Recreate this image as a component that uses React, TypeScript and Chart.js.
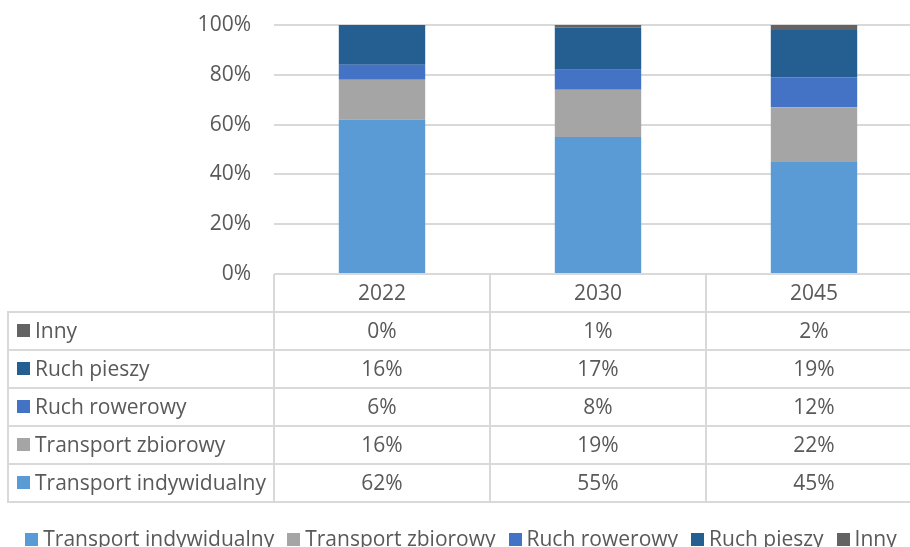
import React, { useEffect, useRef } from "react";
import { Chart, registerables } from "chart.js";

Chart.register(...registerables);

const categories = ["2022", "2030", "2045"];
const seriesNames = ["Transport indywidualny", "Transport zbiorowy", "Ruch rowerowy", "Ruch pieszy", "Inny"];
const transportIndywidualny = [62, 55, 45];
const transportZbiorowy = [16, 19, 22];
const ruchRowerowy = [6, 8, 12];
const ruchPieszy = [16, 17, 19];
const inny = [0, 1, 2];
const seriesColors = ["#5B9BD5", "#A5A5A5", "#4472C4", "#255E91", "#636363"];
const yTickMax = 100;
const yTickStep = 20;

const FONT_SIZE = 21;
const FONT = FONT_SIZE + 'px "Open Sans"';
const TEXT = "#595959";
const LINE = "#d9d9d9";

const tablePlugin = {
  id: "dataTableLegend",
  afterDraw(chart: any) {
    const ctx = chart.ctx as CanvasRenderingContext2D;
    const area = chart.chartArea;
    const xs = chart.scales.x;
    const n = categories.length;
    const colW = (area.right - area.left) / n;
    const top = area.bottom;
    const rowH = 38;
    const tableLeft = 8;
    const rows = chart.data.datasets.length;
    const bottom = top + rowH * (rows + 1);
    ctx.save();
    ctx.strokeStyle = LINE;
    ctx.lineWidth = 2;
    ctx.beginPath();
    for (let i = 0; i <= n; i++) {
      const x = Math.round(area.left + i * colW);
      ctx.moveTo(x, top);
      ctx.lineTo(x, bottom);
    }
    ctx.moveTo(area.left, top);
    ctx.lineTo(area.right, top);
    for (let r = 1; r <= rows + 1; r++) {
      const y = Math.round(top + r * rowH);
      ctx.moveTo(tableLeft - 1, y);
      ctx.lineTo(area.right, y);
    }
    ctx.moveTo(tableLeft, top + rowH);
    ctx.lineTo(tableLeft, bottom);
    ctx.stroke();

    ctx.font = FONT;
    ctx.fillStyle = TEXT;
    ctx.textBaseline = "middle";
    ctx.textAlign = "center";
    for (let i = 0; i < n; i++) {
      const cx = xs.getPixelForValue(i);
      ctx.fillText(String(xs.getLabelForValue(i)), cx, top + rowH / 2 + 1);
    }
    const ds = chart.data.datasets;
    for (let r = 0; r < rows; r++) {
      const d = ds[rows - 1 - r];
      const cy = top + rowH * (r + 1) + rowH / 2;
      ctx.fillStyle = d.backgroundColor;
      ctx.fillRect(17, Math.round(cy - 7), 13, 13);
      ctx.fillStyle = TEXT;
      ctx.textAlign = "left";
      ctx.fillText(d.label, 35, cy + 1);
      ctx.textAlign = "center";
      for (let i = 0; i < n; i++) {
        ctx.fillText(d.data[i] + "%", xs.getPixelForValue(i), cy + 1);
      }
    }

    // legend
    const box = 13;
    const gap = 5;
    const spacing = 13;
    const widths = ds.map((d: any) => box + gap + ctx.measureText(d.label).width);
    const total = widths.reduce((a: number, b: number) => a + b, 0) + spacing * (ds.length - 1);
    let lx = chart.width / 2 - total / 2;
    const ly = 539;
    ctx.textAlign = "left";
    ds.forEach((d: any, i: number) => {
      ctx.fillStyle = d.backgroundColor;
      ctx.fillRect(Math.round(lx), ly - 6, box, box);
      ctx.fillStyle = TEXT;
      ctx.fillText(d.label, lx + box + gap, ly + 1);
      lx += widths[i] + spacing;
    });
    ctx.restore();
  },
};

export default function App() {
  const ref = useRef<HTMLCanvasElement>(null);
  useEffect(() => {
    let chart: Chart | null = null;
    let cancelled = false;
    const make = () => {
      if (cancelled || !ref.current) return;
      const values = [transportIndywidualny, transportZbiorowy, ruchRowerowy, ruchPieszy, inny];
      chart = new Chart(ref.current, {
        type: "bar",
        data: {
          labels: categories,
          datasets: seriesNames.map((name, i) => ({
            label: name,
            data: values[i],
            backgroundColor: seriesColors[i],
            borderWidth: 0,
            barPercentage: 0.4,
            categoryPercentage: 1,
          })),
        },
        options: {
          responsive: false,
          animation: false,
          devicePixelRatio: 1,
          layout: { padding: { top: 25, bottom: 273, left: 0, right: 0 } },
          plugins: { legend: { display: false }, tooltip: { enabled: false } },
          scales: {
            x: {
              stacked: true,
              grid: { display: false, drawTicks: false },
              border: { display: false },
              ticks: { display: false },
            },
            y: {
              stacked: true,
              min: 0,
              max: yTickMax,
              afterFit: (s: any) => {
                s.width = 274;
                s.paddingTop = 0;
                s.paddingBottom = 0;
              },
              grid: { color: LINE, lineWidth: 2, drawTicks: false },
              border: { display: false },
              ticks: {
                stepSize: yTickStep,
                padding: 23,
                color: TEXT,
                font: { family: '"Open Sans"', size: FONT_SIZE },
                callback: (v: any) => v + "%",
              },
            },
          },
        },
        plugins: [tablePlugin],
      });
    };
    (document as any).fonts.load(FONT).then(make, make);
    return () => {
      cancelled = true;
      if (chart) chart.destroy();
    };
  }, []);
  return (
    <div style={{ position: "fixed", left: 0, top: 0, width: 910, height: 547, overflow: "hidden", background: "#fff" }}>
      <canvas ref={ref} width={922} height={547} style={{ width: 922, height: 547, display: "block" }} />
    </div>
  );
}
